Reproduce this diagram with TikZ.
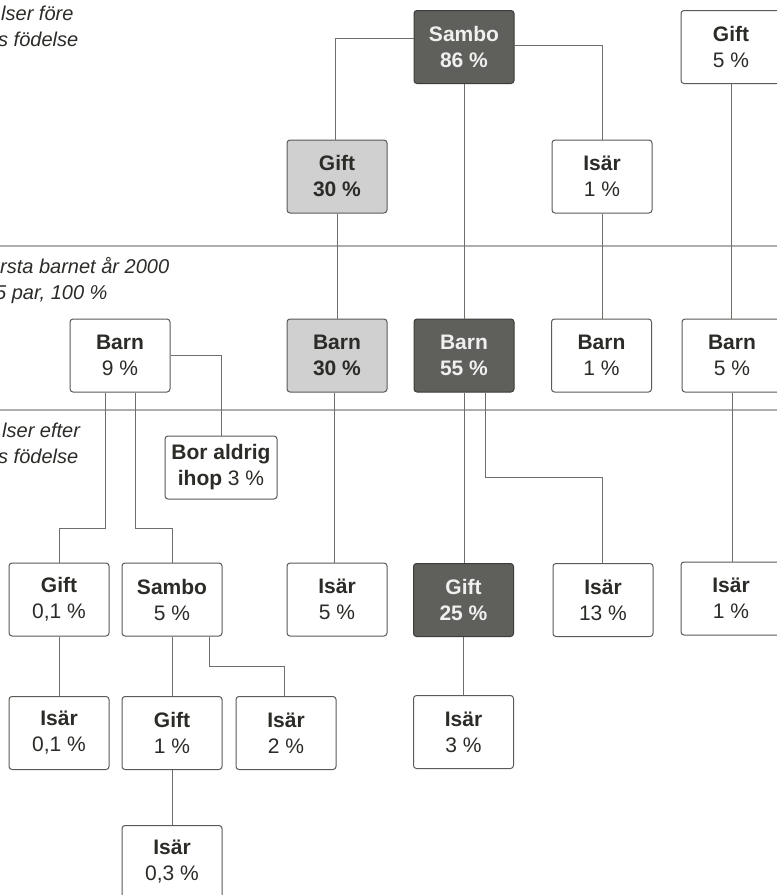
\documentclass[tikz,border=0pt]{standalone}
\usepackage{fontspec}
\setmainfont{Liberation Sans}
\definecolor{darkfill}{HTML}{5F605B}
\definecolor{darkdraw}{HTML}{3C3C38}
\definecolor{lightfill}{HTML}{CFD0CF}
\definecolor{boxdraw}{HTML}{5A5A56}
\definecolor{linecol}{HTML}{6E6E6A}
\definecolor{sepcol}{HTML}{AFAFAF}
\definecolor{txt}{HTML}{2B2B28}
\tikzset{
  box/.style={draw=boxdraw, line width=1pt, rounded corners=3pt, minimum width=100pt,
    minimum height=73pt, inner sep=0pt, align=center,
    font=\fontsize{21}{26}\selectfont, text=txt},
  whitebox/.style={box, fill=white},
  graybox/.style={box, fill=lightfill, font=\fontsize{21}{26}\selectfont\bfseries},
  darkbox/.style={box, fill=darkfill, draw=darkdraw, text=white!94!black,
    font=\fontsize{21}{26}\selectfont\bfseries},
  conn/.style={draw=linecol, line width=0.9pt},
  sepline/.style={draw=sepcol, line width=2pt},
  lbl/.style={anchor=base west, inner sep=0pt, text=txt,
    font=\fontsize{20}{26}\selectfont\itshape}
}
\begin{document}
\begin{tikzpicture}[x=1pt, y=-1pt]
\useasboundingbox (0,0) rectangle (777,895);
\fill[white] (0,0) rectangle (777,895);

% separators
\draw[sepline] (0,246) -- (777,246);
\draw[sepline] (0,410) -- (777,410);

% side labels
\node[lbl] (t1) at (1,20) {lser före};
\node[lbl] (t2) at (-2,46) {s födelse};
\node[lbl] (t3) at (0,273) {rsta barnet år 2000};
\node[lbl] (t4) at (-5,299) {5 par, 100 \%};
\node[lbl] (t5) at (2,437) {lser efter};
\node[lbl] (t6) at (-2,463) {s födelse};

% row 1
\node[darkbox] (sambo) at (464,47) {Sambo\\86 \%};
\node[whitebox] (gift5) at (731,47) {\textbf{Gift}\\5 \%};
% row 2
\node[graybox] (gift30) at (337,176.5) {Gift\\30 \%};
\node[whitebox] (isar1) at (602,176.5) {\textbf{Isär}\\1 \%};
% row 3
\node[whitebox] (barn9) at (120,355.5) {\textbf{Barn}\\9 \%};
\node[graybox] (barn30) at (337,355.5) {Barn\\30 \%};
\node[darkbox] (barn55) at (464,355.5) {Barn\\55 \%};
\node[whitebox] (barn1) at (601.5,355.5) {\textbf{Barn}\\1 \%};
\node[whitebox] (barn5) at (732,355.5) {\textbf{Barn}\\5 \%};
% row 3b
\node[whitebox, minimum width=112pt, minimum height=63pt] (bor) at (221,467.5)
  {\textbf{Bor aldrig}\\\textbf{ihop} 3 \%};
% row 4
\node[whitebox] (gift01) at (59,599.5) {\textbf{Gift}\\0,1 \%};
\node[whitebox] (sambo5) at (172,599.5) {\textbf{Sambo}\\5 \%};
\node[whitebox] (isar5) at (337,599.5) {\textbf{Isär}\\5 \%};
\node[darkbox] (gift25) at (463.5,600) {Gift\\25 \%};
\node[whitebox] (isar13) at (603,600) {\textbf{Isär}\\13 \%};
\node[whitebox] (isar1b) at (731,598.5) {\textbf{Isär}\\1 \%};
% row 5
\node[whitebox] (isar01) at (59,733) {\textbf{Isär}\\0,1 \%};
\node[whitebox] (gift1) at (172,733) {\textbf{Gift}\\1 \%};
\node[whitebox] (isar2) at (286,733) {\textbf{Isär}\\2 \%};
\node[whitebox] (isar3) at (463.5,732) {\textbf{Isär}\\3 \%};
% row 6
\node[whitebox] (isar03) at (172,862) {\textbf{Isär}\\0,3 \%};

% junction levels
\coordinate (h1) at (0,528);
\coordinate (h2) at (0,477);
\coordinate (h3) at (0,666);

% connectors
\draw[conn] ([yshift=9pt]sambo.west) -| ([xshift=-2pt]gift30.north);
\draw[conn] ([yshift=2pt]sambo.east) -| (isar1.north);
\draw[conn] (sambo.south) -- (barn55.north);
\draw[conn] (gift5.south) -- (gift5.south |- barn5.north);
\draw[conn] (gift30.south) -- (barn30.north);
\draw[conn] (isar1.south) -- (isar1.south |- barn1.north);
\draw[conn] (barn9.east) -| (bor.north);
\draw[conn] ([xshift=-15pt]barn9.south) |- (gift01.north |- h1) -- (gift01.north);
\draw[conn] ([xshift=15pt]barn9.south) |- (sambo5.north |- h1) -- (sambo5.north);
\draw[conn] ([xshift=-3pt]barn30.south) -- ([xshift=-3pt]isar5.north);
\draw[conn] (barn55.south) -- (barn55.south |- gift25.north);
\draw[conn] ([xshift=21pt]barn55.south) |- ([xshift=-1pt]isar13.north |- h2) -- ([xshift=-1pt]isar13.north);
\draw[conn] (barn5.south) -- (barn5.south |- isar1b.north);
\draw[conn] (gift01.south) -- (isar01.north);
\draw[conn] (sambo5.south) -- (gift1.north);
\draw[conn] ([xshift=37pt]sambo5.south) |- ([xshift=-2pt]isar2.north |- h3) -- ([xshift=-2pt]isar2.north);
\draw[conn] (gift1.south) -- (isar03.north);
\draw[conn] (gift25.south) -- (isar3.north);
\end{tikzpicture}
\end{document}
